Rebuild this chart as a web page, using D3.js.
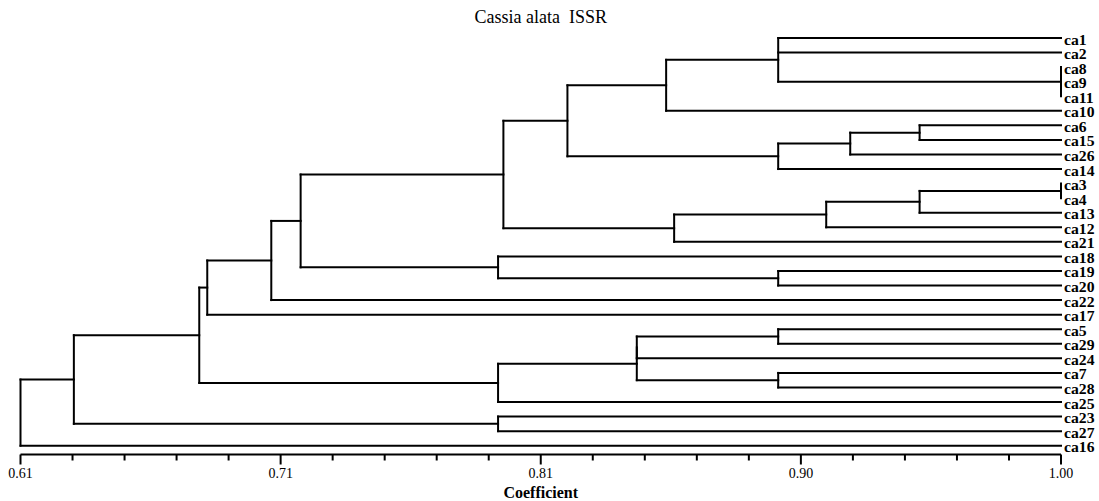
<!DOCTYPE html>
<html>
<head>
<meta charset="utf-8">
<script src="https://cdn.jsdelivr.net/npm/d3@7"></script>
<style>
  body { margin: 0; background: #fff; }
  svg { display: block; }
  text { font-family: "Liberation Serif", "Times New Roman", serif; fill: #000; }
</style>
</head>
<body>
<div id="chart"></div>
<script>
// leaf order, top to bottom
var leaves = ["ca1", "ca2", "ca8", "ca9", "ca11", "ca10", "ca6", "ca15", "ca26", "ca14",
              "ca3", "ca4", "ca13", "ca12", "ca21", "ca18", "ca19", "ca20", "ca22", "ca17",
              "ca5", "ca29", "ca24", "ca7", "ca28", "ca25", "ca23", "ca27", "ca16"];

// cluster joins: [node, children, coefficient]
var merges = [
  ["n1", ["ca8", "ca9", "ca11"], 1.000],
  ["n2", ["ca1", "ca2", "n1"], 0.894],
  ["n3", ["n2", "ca10"], 0.852],
  ["n4", ["ca6", "ca15"], 0.947],
  ["n5", ["n4", "ca26"], 0.921],
  ["n6", ["n5", "ca14"], 0.894],
  ["n7", ["n3", "n6"], 0.815],
  ["n8", ["ca3", "ca4"], 1.000],
  ["n9", ["n8", "ca13"], 0.947],
  ["n10", ["n9", "ca12"], 0.912],
  ["n11", ["n10", "ca21"], 0.855],
  ["n12", ["n7", "n11"], 0.791],
  ["n13", ["ca19", "ca20"], 0.894],
  ["n14", ["ca18", "n13"], 0.789],
  ["n15", ["n12", "n14"], 0.715],
  ["n16", ["n15", "ca22"], 0.704],
  ["n17", ["n16", "ca17"], 0.680],
  ["n18", ["ca5", "ca29"], 0.894],
  ["n19", ["n18", "ca24"], 0.841],
  ["n20", ["ca7", "ca28"], 0.894],
  ["n21", ["n19", "n20"], 0.841],
  ["n22", ["n21", "ca25"], 0.789],
  ["n23", ["n17", "n22"], 0.677],
  ["n24", ["ca23", "ca27"], 0.789],
  ["n25", ["n23", "n24"], 0.630],
  ["root", ["n25", "ca16"], 0.610]
];

var tickLabels = ["0.61", "0.71", "0.81", "0.90", "1.00"];
var axisMin = 0.61, axisMax = 1.00;

var width = 1099, height = 501;

var svg = d3.select("#chart").append("svg")
    .attr("width", width)
    .attr("height", height);

var x = d3.scaleLinear().domain([axisMin, axisMax]).range([20.5, 1061]);
var y = d3.scalePoint().domain(leaves).range([38, 445.7]);

// build nested tree from merges
var nodes = {};
leaves.forEach(function(d) { nodes[d] = {name: d, h: axisMax}; });
merges.forEach(function(m) {
    nodes[m[0]] = {name: m[0], h: m[2], children: m[1].map(function(c) { return nodes[c]; })};
});
var root = d3.hierarchy(nodes["root"]);

// leaf y from scale, internal y = middle of first and last child
root.eachAfter(function(d) {
    d.px = x(d.data.h);
    if (!d.children) d.py = y(d.data.name);
    else d.py = (d.children[0].py + d.children[d.children.length - 1].py) / 2;
});

var lines = svg.append("g")
    .attr("stroke", "#000")
    .attr("stroke-width", 2)
    .attr("fill", "none")
    .attr("stroke-linecap", "square");

root.descendants().filter(function(d) { return d.children; }).forEach(function(d) {
    var first = d.children[0], last = d.children[d.children.length - 1];
    lines.append("line")
        .attr("x1", d.px).attr("x2", d.px)
        .attr("y1", first.py).attr("y2", last.py);
    d.children.forEach(function(c) {
        if (c.px - d.px < 0.5) return;
        lines.append("line")
            .attr("x1", d.px).attr("x2", c.px)
            .attr("y1", c.py).attr("y2", c.py);
    });
});

// leaf labels
svg.append("g")
  .selectAll("text")
  .data(root.leaves())
  .enter().append("text")
    .attr("transform", function(d) { return "translate(1064," + (d.py + 6.5) + ") scale(1.12,1)"; })
    .attr("font-size", 14)
    .attr("font-weight", "bold")
    .text(function(d) { return d.data.name; });

// axis
var axisY = 454.5;
var tickVals = d3.range(21).map(function(i) { return axisMin + i * (axisMax - axisMin) / 20; });
var axis = svg.append("g").attr("stroke", "#000").attr("stroke-width", 2);
axis.append("line")
    .attr("x1", x(axisMin)).attr("x2", x(axisMax))
    .attr("y1", axisY).attr("y2", axisY);
axis.selectAll("line.tick")
  .data(tickVals)
  .enter().append("line")
    .attr("class", "tick")
    .attr("x1", function(d) { return x(d); })
    .attr("x2", function(d) { return x(d); })
    .attr("y1", axisY)
    .attr("y2", function(d, i) { return i % 5 === 0 ? axisY + 10 : axisY + 6; });

svg.append("g")
  .selectAll("text")
  .data(tickLabels)
  .enter().append("text")
    .attr("x", function(d, i) { return x(tickVals[i * 5]); })
    .attr("y", 478)
    .attr("text-anchor", "middle")
    .attr("font-size", 14)
    .text(function(d) { return d; });

svg.append("text")
    .attr("x", (x(axisMin) + x(axisMax)) / 2)
    .attr("y", 497.5)
    .attr("text-anchor", "middle")
    .attr("font-size", 16)
    .attr("font-weight", "bold")
    .text("Coefficient");

svg.append("text")
    .attr("x", (x(axisMin) + x(axisMax)) / 2)
    .attr("y", 23)
    .attr("text-anchor", "middle")
    .attr("font-size", 18)
    .style("white-space", "pre")
    .text("Cassia alata  ISSR");
</script>
</body>
</html>
